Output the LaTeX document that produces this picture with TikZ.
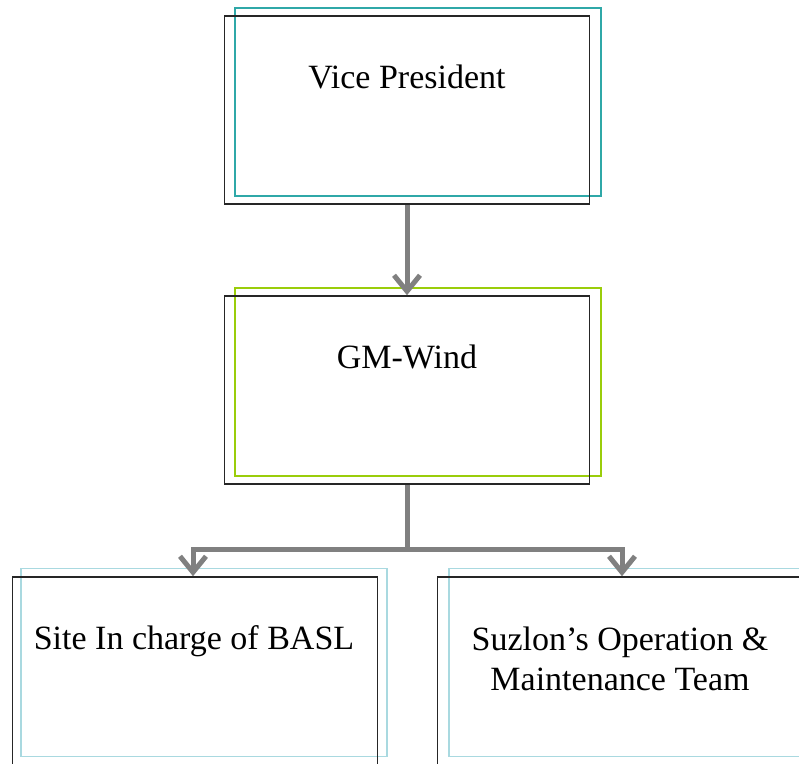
\documentclass[tikz,border=0pt]{standalone}
\usepackage{fontspec}
\setmainfont{Liberation Serif}
\usetikzlibrary{arrows.meta}
\definecolor{tealc}{HTML}{2FA8A8}
\definecolor{limec}{HTML}{9ACD0A}
\definecolor{paleblue}{HTML}{A9D9E0}
\definecolor{conngray}{HTML}{808080}
\tikzset{
  blackbox/.style={draw=black!85, line width=0.75pt, minimum width=182.5pt, minimum height=94pt, inner sep=0pt},
  offbox/.style={line width=0.6pt, minimum width=183pt, minimum height=94pt, inner sep=0pt},
  lbl/.style={font=\fontsize{17}{20}\selectfont, inner sep=0pt, align=center},
  conn/.style={draw=conngray, line width=2.5pt},
  tip/.style={-{Straight Barb[length=8pt,width=13pt]}}
}
\begin{document}
\begin{tikzpicture}[x=0.5pt,y=-0.5pt]
\useasboundingbox (0,0) rectangle (799,764);
\clip (0,0) rectangle (799,764);
% boxes
\node[offbox, draw=tealc] (vpo) at (418,102) {};
\node[blackbox] (vp) at (407,110) {};
\node[offbox, draw=limec] (gmo) at (418,382) {};
\node[blackbox] (gm) at (407,390) {};
\node[offbox, draw=paleblue] (siteo) at (204,662.5) {};
\node[blackbox] (site) at (195,671) {};
\node[offbox, draw=paleblue] (suzo) at (632,662.5) {};
\node[blackbox] (suz) at (620,671) {};
% labels
\node[lbl, anchor=base] (vpt) at (407,89) {Vice President};
\node[lbl, anchor=base] (gmt) at (407,369) {GM-Wind};
\node[lbl, anchor=base] (sitet) at (194,650) {Site In charge of BASL};
\node[lbl] (suzt) at (620,659) {Suzlon’s Operation \&\\Maintenance Team};
% connectors
\coordinate (j) at (407,550);
\draw[conn, tip] (vp.south) -- (gm.north);
\draw[conn] (gm.south) -- (j);
\draw[conn, tip] (j) -| ([xshift=-1pt]site.north);
\draw[conn, tip] (j) -| ([xshift=1pt]suz.north);
\end{tikzpicture}
\end{document}
